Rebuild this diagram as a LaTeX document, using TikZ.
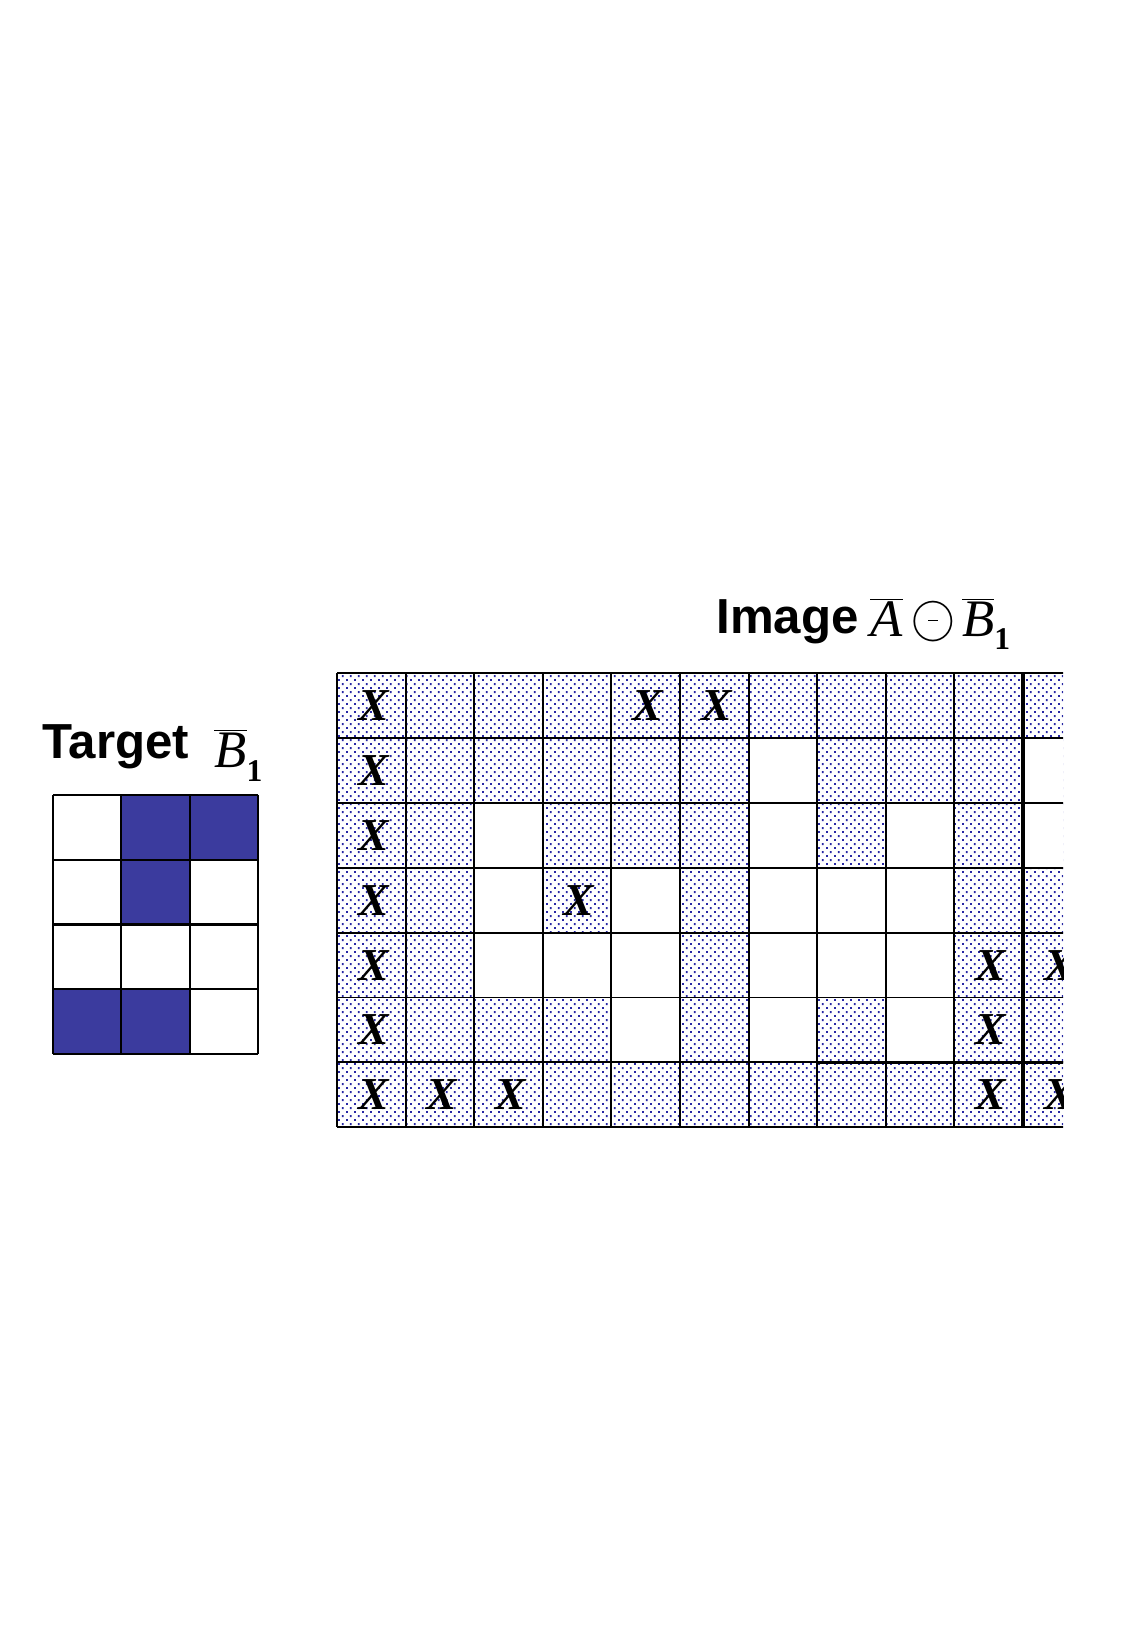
\documentclass[tikz,border=0pt]{standalone}
\usepackage{fontspec}
\setmainfont{Liberation Serif}
\setsansfont{Liberation Sans}
\usepackage{tikz}
\usepackage{xcolor}
\usetikzlibrary{patterns.meta}

\definecolor{targetblue}{RGB}{59,59,158}
\definecolor{dotblue}{RGB}{40,40,165}

\newcommand{\opcircdash}{\raisebox{2.3pt}{\ooalign{%
    \fontsize{27}{30}\selectfont$\bigcirc$\cr
    \hidewidth\raisebox{6.3pt}{\rule{5.7pt}{0.9pt}}\hidewidth\cr}}}

\tikzdeclarepattern{
  name=celldots,
  type=uncolored,
  bounding box={(0pt,0pt) and (4.7pt,4.8pt)},
  tile size={(4.7pt,4.8pt)},
  code={
    \fill (0pt,0pt) rectangle (1.15pt,1.15pt);
    \fill (2.35pt,2.4pt) rectangle (3.5pt,3.55pt);
  }
}

\begin{document}
\begin{tikzpicture}[
    x=0.02cm,
    y=-0.02cm,
    titletext/.style={font=\fontsize{28}{32}\selectfont\sffamily\bfseries,inner sep=0pt,anchor=base west},
    symboltext/.style={font=\fontsize{30}{34}\selectfont,inner sep=0pt,anchor=base west},
    gridline/.style={draw=black,line width=1.1pt},
    thickline/.style={draw=black,line width=2pt},
    xmark/.style={font=\fontsize{26}{30}\selectfont\bfseries\itshape,inner sep=0pt}
]
\useasboundingbox (0,0) rectangle (1123,1635);

% Target structuring element.
\node[titletext] (targettext) at (42,758) {Target};
\node[symboltext] (targetsym) at (214,767)
    {$\overline{\textit{B}}$\raisebox{-8.5pt}{\fontsize{18}{20}\selectfont\bfseries 1}};

\foreach \c/\r in {1/0,2/0,1/1,0/3,1/3} {
    \fill[targetblue] ({53+68.33*\c},{795+64.75*\r}) rectangle +(68.33,64.75);
}
\foreach \i in {0,...,3} {
    \draw[gridline,line width=1.2pt] ({53+68.33*\i},795) -- ({53+68.33*\i},1054);
}
\foreach \j in {0,...,4} {
    \draw[gridline,line width=1.2pt] (53,{795+64.75*\j}) -- (258,{795+64.75*\j});
}

% Eroded image.
\node[titletext] (imagetext) at (716,633) {Image};
\node[symboltext] (imagesym) at (870,636.5)
    {$\overline{\textit{A}}$\hspace{5pt}\opcircdash\hspace{4pt}$\overline{\textit{B}}$\raisebox{-7.4pt}{\fontsize{18}{20}\selectfont\bfseries 1}};

\begin{scope}
\clip (330,665) rectangle (1063,1135);
\fill[pattern=celldots,pattern color=dotblue] (337,673) rectangle (1100,1127.3);

% Background cells.
\foreach \c/\r in {6/1,10/1,2/2,6/2,8/2,10/2,2/3,4/3,6/3,7/3,8/3,
                   2/4,3/4,4/4,6/4,7/4,8/4,4/5,6/5,8/5} {
    \fill[white] ({337+68.6*\c},{673+64.9*\r}) rectangle +(68.6,64.9);
}

% Grid.
\foreach \i in {0,...,11} {
    \draw[gridline] ({337+68.6*\i},673) -- ({337+68.6*\i},1127.3);
}
\foreach \j in {0,...,7} {
    \draw[gridline] (337,{673+64.9*\j}) -- (1100,{673+64.9*\j});
}
\draw[thickline] (1023,673) -- (1023,1127.3);
\draw[thickline] (817.2,1062.4) -- (1100,1062.4);

% Marked pixels.
\foreach \c/\r in {0/0,4/0,5/0,0/1,0/2,0/3,3/3,0/4,9/4,10/4,0/5,9/5,
                   0/6,1/6,2/6,9/6,10/6} {
    \node[xmark] (x-\c-\r) at ({337+68.6*\c+34.3+2},{673+64.9*\r+32.45}) {X};
}
\end{scope}

\end{tikzpicture}
\end{document}
